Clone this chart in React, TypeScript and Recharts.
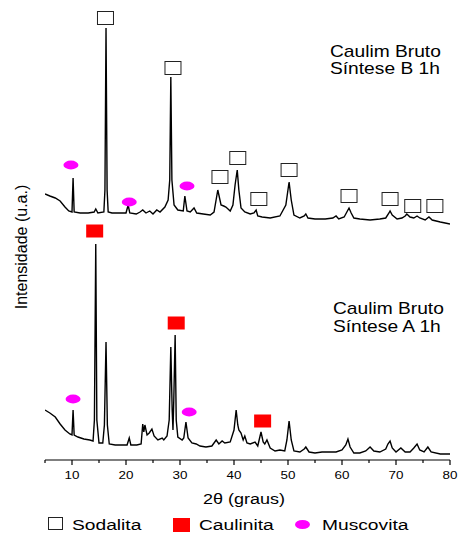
import React from 'react'
import { ComposedChart, Line, Scatter, XAxis, YAxis } from 'recharts'

const FONT = '"Liberation Sans", Arial, Helvetica, sans-serif'

// Caulim Bruto - Síntese B 1h (2θ, intensidade u.a.)
const thetaB = [
  5.0, 5.9, 6.9, 7.8, 8.7, 9.4, 10.0, 10.2, 10.4, 11.5, 13.0, 14.1, 14.4, 14.8, 15.9, 16.1, 16.3, 16.5, 16.7,
  17.4, 18.9, 20.0, 20.4, 20.7, 21.9, 22.6, 23.1, 23.7, 24.4, 25.0, 25.7, 26.3, 27.2, 27.8, 28.1, 28.3, 28.5,
  28.9, 29.6, 30.6, 30.9, 31.3, 31.9, 32.6, 33.1, 34.3, 35.6, 36.3, 37.0, 37.6, 38.1, 38.5, 39.3, 39.8, 40.2,
  40.6, 40.9, 41.3, 42.0, 43.0, 43.7, 44.1, 44.4, 45.2, 46.7, 48.5, 49.6, 50.2, 50.6, 51.1, 52.2, 53.0, 53.3,
  53.7, 55.0, 56.9, 58.3, 58.9, 59.4, 60.4, 60.9, 61.3, 61.7, 62.2, 63.3, 65.2, 67.0, 68.1, 68.7, 68.9, 69.3,
  70.2, 71.1, 71.7, 72.0, 72.6, 73.3, 73.9, 74.4, 75.4, 76.1, 76.7, 78.2, 79.1, 80.0,
]
const intB = [
  36, 34, 32, 29, 23, 19, 18, 52, 18, 17, 17, 18, 21, 17, 18, 40, 202, 40, 18,
  17, 17, 17, 25, 17, 16, 18, 20, 17, 19, 16, 20, 18, 23, 30, 50, 153, 50,
  25, 20, 19, 34, 19, 18, 22, 17, 16, 15, 18, 40, 25, 24, 23, 19, 25, 45,
  60, 40, 22, 18, 16, 17, 20, 14, 13, 12, 14, 25, 48, 30, 15, 12, 14, 16,
  12, 11, 11, 12, 14, 11, 13, 18, 22, 17, 12, 11, 10, 11, 12, 17, 19, 15,
  11, 12, 14, 16, 13, 12, 14, 12, 10, 13, 10, 8, 7, 6,
]

// Caulim Bruto - Síntese A 1h
const thetaA = [
  5.0, 5.9, 6.9, 7.8, 8.7, 9.6, 10.0, 10.2, 10.4, 11.1, 12.2, 13.3, 13.9, 14.15, 14.4, 14.6, 15.0, 15.7, 16.0,
  16.3, 16.55, 16.9, 18.0, 19.3, 20.2, 20.6, 20.9, 22.0, 22.8, 23.1, 23.3, 23.5, 23.9, 24.3, 24.8, 25.2, 25.9,
  26.7, 27.0, 27.6, 28.0, 28.3, 28.55, 28.7, 28.85, 29.1, 29.3, 29.6, 30.4, 30.7, 31.1, 31.5, 32.2, 33.0, 33.7,
  34.8, 35.9, 36.7, 37.2, 37.8, 38.3, 39.3, 40.0, 40.4, 40.7, 40.9, 41.3, 41.7, 42.0, 42.4, 43.0, 43.9, 44.4,
  45.0, 45.4, 45.7, 46.1, 46.7, 47.6, 48.5, 49.4, 49.8, 50.2, 50.6, 51.1, 52.2, 53.0, 53.3, 53.9, 55.0, 56.3,
  57.8, 58.9, 60.0, 60.7, 61.1, 61.5, 62.2, 63.3, 64.4, 65.2, 65.9, 67.0, 68.1, 68.5, 68.9, 69.3, 70.0, 70.9,
  71.7, 72.6, 73.3, 73.9, 74.4, 75.2, 75.9, 76.5, 78.2, 80.0,
]
const intA = [
  50, 47, 43, 36, 30, 26, 25, 50, 25, 23, 21, 20, 19, 40, 216, 40, 17, 17, 35,
  118, 35, 16, 15, 15, 15, 22, 15, 15, 16, 36, 28, 35, 25, 27, 31, 24, 20,
  22, 20, 24, 40, 113, 50, 30, 60, 125, 40, 23, 20, 22, 38, 22, 17, 16, 14,
  13, 14, 20, 16, 19, 17, 18, 30, 50, 35, 30, 27, 20, 24, 17, 16, 18, 14,
  28, 18, 16, 20, 12, 9, 10, 9, 20, 39, 20, 9, 8, 11, 13, 8, 7, 8,
  8, 8, 10, 15, 21, 13, 7, 7, 9, 13, 9, 8, 11, 16, 19, 12, 8, 12,
  8, 8, 12, 16, 10, 8, 13, 8, 6, 6,
]

const offsetB = 230

// picos identificados
const sodalitaTheta = [16.2, 28.7, 37.4, 40.7, 44.6, 50.2, 61.3, 68.9, 73.1, 77.2]
const sodalitaInt = [212, 162, 53, 72, 31, 60, 34, 31, 24, 24]
const caulinitaTheta = [14.2, 29.3, 45.3]
const caulinitaInt = [229, 137, 39]
const muscovitaBTheta = [9.8, 20.6, 31.3]
const muscovitaBInt = [65, 28, 44]
const muscovitaATheta = [10.2, 31.7]
const muscovitaAInt = [61, 48]

const xTicks = [5, 10, 15, 20, 25, 30, 35, 40, 45, 50, 55, 60, 65, 70, 75, 80]

const traceB = thetaB.map((x, i) => ({ x, y: intB[i] + offsetB }))
const traceA = thetaA.map((x, i) => ({ x, y: intA[i] }))
const sodalita = sodalitaTheta.map((x, i) => ({ x, y: sodalitaInt[i] + offsetB }))
const caulinita = caulinitaTheta.map((x, i) => ({ x, y: caulinitaInt[i] }))
const muscovita = [
  ...muscovitaBTheta.map((x, i) => ({ x, y: muscovitaBInt[i] + offsetB })),
  ...muscovitaATheta.map((x, i) => ({ x, y: muscovitaAInt[i] })),
]

function AxisTick(props: any) {
  const { x, y, payload } = props
  const v = payload.value
  const major = v % 10 === 0
  const y0 = y - 5
  return (
    <g>
      <line x1={x} x2={x} y1={y0} y2={y0 + (major ? 5 : 3)} stroke="#000" strokeWidth={1.2} />
      {major && (
        <text
          transform={`translate(${x},${y0 + 19}) scale(1.22,1)`}
          textAnchor="middle"
          fontSize={11}
          fontFamily={FONT}
          fill="#000"
        >
          {v}
        </text>
      )}
    </g>
  )
}

const SodalitaShape = (p: any) => (
  <rect x={p.cx - 8} y={p.cy - 6.5} width={16} height={13} fill="#fff" stroke="#222" strokeWidth={1} />
)
const CaulinitaShape = (p: any) => <rect x={p.cx - 8.5} y={p.cy - 6.5} width={17} height={13} fill="#ff0000" />
const MuscovitaShape = (p: any) => <ellipse cx={p.cx} cy={p.cy} rx={7.5} ry={4.4} fill="#ff00ff" />

function WideText({ x, y, size, children, sx = 1.2 }: any) {
  return (
    <text transform={`translate(${x},${y}) scale(${sx},1)`} fontSize={size} fontFamily={FONT} fill="#000">
      {children}
    </text>
  )
}

export default function App() {
  return (
    <div style={{ position: 'absolute', left: 0, top: 0, width: 458, height: 535, background: '#fff' }}>
      <ComposedChart width={458} height={535} margin={{ top: 0, right: 8, bottom: 45, left: 45 }}>
        <XAxis
          type="number"
          dataKey="x"
          domain={[5, 80]}
          allowDataOverflow
          ticks={xTicks}
          interval={0}
          tickLine={false}
          tickSize={5}
          tickMargin={0}
          tick={(p: any) => <AxisTick {...p} />}
          axisLine={{ stroke: '#000', strokeWidth: 1.2 }}
          height={30}
        />
        <YAxis type="number" dataKey="y" domain={[0, 460]} hide />
        <Line data={traceB} dataKey="y" type="linear" stroke="#000" strokeWidth={1.4} dot={false} isAnimationActive={false} />
        <Line data={traceA} dataKey="y" type="linear" stroke="#000" strokeWidth={1.4} dot={false} isAnimationActive={false} />
        <Scatter data={sodalita} dataKey="y" shape={SodalitaShape} isAnimationActive={false} />
        <Scatter data={caulinita} dataKey="y" shape={CaulinitaShape} isAnimationActive={false} />
        <Scatter data={muscovita} dataKey="y" shape={MuscovitaShape} isAnimationActive={false} />
      </ComposedChart>
      <svg width={458} height={535} style={{ position: 'absolute', left: 0, top: 0, pointerEvents: 'none' }}>
        <text transform="translate(26.5,247) rotate(-90)" textAnchor="middle" fontSize={16} fontFamily={FONT} fill="#000">
          Intensidade (u.a.)
        </text>
        <WideText x={330} y={56.5} size={16}>Caulim Bruto</WideText>
        <WideText x={330} y={74} size={16}>Síntese B 1h</WideText>
        <WideText x={333} y={314} size={16}>Caulim Bruto</WideText>
        <WideText x={333} y={331.5} size={16}>Síntese A 1h</WideText>
        <WideText x={203} y={504} size={15}>2θ (graus)</WideText>
        <rect x={48.5} y={517.5} width={14} height={12} fill="#fff" stroke="#222" strokeWidth={1} />
        <WideText x={72} y={529.5} size={15.5} sx={1.24}>Sodalita</WideText>
        <rect x={173} y={518} width={17} height={14} fill="#ff0000" />
        <WideText x={199} y={529.5} size={15.5} sx={1.24}>Caulinita</WideText>
        <ellipse cx={302.5} cy={524.5} rx={7.5} ry={4.5} fill="#ff00ff" />
        <WideText x={322} y={529.5} size={15.5} sx={1.24}>Muscovita</WideText>
      </svg>
    </div>
  )
}
